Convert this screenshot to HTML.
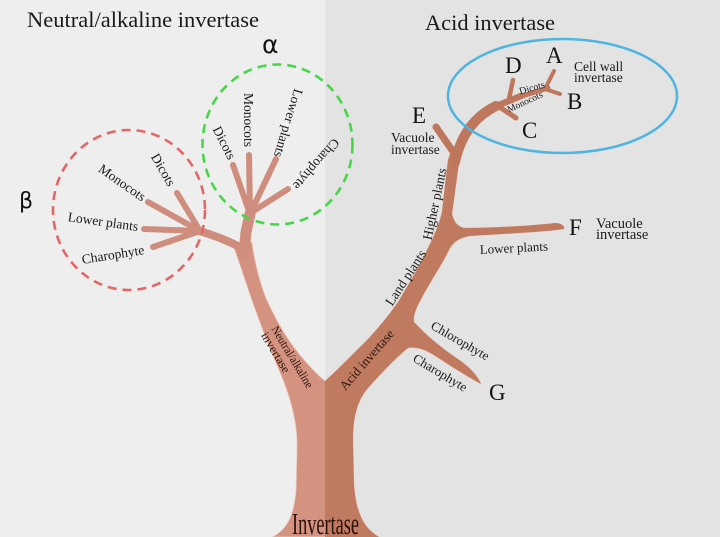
<!DOCTYPE html>
<html>
<head>
<meta charset="utf-8">
<style>
  html,body{margin:0;padding:0;background:#eeeeee;}
  body{width:720px;height:537px;overflow:hidden;}
  svg{display:block;}
  text{font-family:"Liberation Serif","Times New Roman",serif;}
</style>
</head>
<body>
<svg width="720" height="537" viewBox="0 0 720 537" xmlns="http://www.w3.org/2000/svg">
  <defs>
    <clipPath id="rc"><rect x="325" y="0" width="400" height="537"/></clipPath>
    <path id="tree" d="M 272,537
      C 287,530 294,515 296,490
      L 297,445
      C 297,420 290,395 278,368
      C 268,345 258,318 250,295
      C 245,280 239,262 234,248
      L 252,242
      C 254,258 259,280 266,298
      C 275,318 286,338 300,355
      C 310,367 318,375 325,381
      C 334,373 346,361 357,350
      C 372,336 387,318 398,302
      C 410,282 420,265 427,250
      C 433,238 439,225 442,212
      L 445,185
      L 448,160
      L 452,148
      L 461,152
      L 458,170
      L 455,192
      L 452,214
      C 454,222 457,226 464,228
      C 490,228 530,226 555,223
      C 561,223 565,226 564,229
      C 545,232 500,234 470,236
      C 458,238 452,243 448,252
      C 440,268 428,285 419,303
      C 415,311 413,317 414,322
      C 425,334 440,347 458,359
      C 468,366 477,374 481,384
      C 470,378 455,369 440,359
      C 428,351 418,346 408,348
      C 398,356 384,370 368,388
      C 358,400 353,415 353,440
      L 354,485
      C 356,510 362,527 379,537
      Z"/>
  </defs>

  <!-- backgrounds -->
  <rect x="0" y="0" width="720" height="537" fill="#e3e3e3"/>
  <rect x="0" y="0" width="325" height="537" fill="#eeeeee"/>

  <!-- tree trunk -->
  <use href="#tree" fill="#d49280" stroke="#efcfc2" stroke-width="0.8"/>
  <use href="#tree" fill="#c07a60" clip-path="url(#rc)"/>

  <!-- upper right acid branches -->
  <g stroke="#be775d" stroke-linecap="round" fill="none">
    <path d="M 454,153 L 436,127" stroke-width="7"/>
    <path d="M 455,162 C 461,135 474,117 496,106" stroke-width="10"/>
    <path d="M 494,107 L 521,96" stroke-width="6.5"/>
    <path d="M 519,97 L 548,88" stroke-width="5"/>
    <path d="M 498,106 L 516,118" stroke-width="5"/>
    <path d="M 509,99 L 513,80" stroke-width="4.5"/>
    <path d="M 545,89 L 554,71" stroke-width="4"/>
    <path d="M 545,89 L 560,94" stroke-width="4"/>
  </g>

  <!-- left alpha/beta branches -->
  <g stroke="#cf8d7d" stroke-linecap="round" fill="none">
    <path d="M 244,254 L 246,232 L 250,214" stroke-width="11"/>
    <path d="M 240,247 C 228,241 214,235 199,231" stroke-width="8"/>
    <path d="M 200,231 L 177,193" stroke-width="6"/>
    <path d="M 200,231 L 148,202" stroke-width="6"/>
    <path d="M 200,231 L 144,229" stroke-width="6"/>
    <path d="M 200,231 L 153,247" stroke-width="6"/>
    <path d="M 250,214 L 233,165" stroke-width="6"/>
    <path d="M 250,214 L 249,155" stroke-width="6"/>
    <path d="M 250,214 L 276,159" stroke-width="6"/>
    <path d="M 252,212 L 288,189" stroke-width="6"/>
  </g>

  <!-- circles -->
  <ellipse cx="277.5" cy="144.5" rx="75" ry="80" fill="none" stroke="#48d648" stroke-width="2.6" stroke-dasharray="9 6"/>
  <ellipse cx="129" cy="210" rx="76" ry="80" fill="none" stroke="#e26868" stroke-width="2.6" stroke-dasharray="9 6"/>
  <ellipse cx="562.5" cy="96" rx="114.5" ry="57" fill="none" stroke="#4db5e0" stroke-width="2.5"/>

  <!-- titles -->
  <text x="27" y="27" font-size="22" fill="#1a1a1a" textLength="232" lengthAdjust="spacingAndGlyphs">Neutral/alkaline invertase</text>
  <text x="425" y="30" font-size="22" fill="#1a1a1a" textLength="130" lengthAdjust="spacingAndGlyphs">Acid invertase</text>

  <!-- greek -->
  <text x="262" y="53" font-size="25" fill="#111" style="font-family:'DejaVu Sans',sans-serif;">α</text>
  <text x="19" y="208" font-size="22" fill="#111" style="font-family:'DejaVu Sans',sans-serif;">β</text>

  <g fill="#1a1a1a" font-size="13.5" text-anchor="middle">
    <!-- beta labels -->
    <text transform="translate(163,170) rotate(60)" dy="0.3em">Dicots</text>
    <text transform="translate(122,183) rotate(35)" dy="0.3em">Monocots</text>
    <text transform="translate(103,222) rotate(8)" dy="0.3em">Lower plants</text>
    <text transform="translate(113,255) rotate(-9)" dy="0.3em">Charophyte</text>
    <!-- alpha labels -->
    <text transform="translate(224,143) rotate(63)" dy="0.3em">Dicots</text>
    <text transform="translate(248,120) rotate(90)" dy="0.3em">Monocots</text>
    <text transform="translate(288,123) rotate(107)" dy="0.3em">Lower plants</text>
    <text transform="translate(316,164) rotate(131)" dy="0.3em">Charophyte</text>
    <!-- right stem labels -->
    <text transform="translate(435,204) rotate(-78)" dy="0.3em">Higher plants</text>
    <text transform="translate(406,278) rotate(-57)" dy="0.3em">Land plants</text>
    <text transform="translate(460,341) rotate(30)" dy="0.3em" font-size="13">Chlorophyte</text>
    <text transform="translate(440,373) rotate(31)" dy="0.3em" font-size="13">Charophyte</text>
    <!-- in ellipse -->
    <text transform="translate(532,88) rotate(-16)" dy="0.3em" font-size="10">Dicots</text>
    <text transform="translate(525,102) rotate(-25)" dy="0.3em" font-size="9.5">Monocots</text>
    <!-- inside trunk -->
    <text transform="translate(367,360) rotate(-49)" dy="0.3em" font-size="13" fill="#2a140c">Acid invertase</text>
  </g>

  <g transform="translate(271,329) rotate(59)" fill="#2a140c" font-size="12">
    <text x="0" y="0" textLength="70" lengthAdjust="spacingAndGlyphs">Neutral/alkaline</text>
    <text x="0" y="12" textLength="45" lengthAdjust="spacingAndGlyphs">invertase</text>
  </g>

  <!-- lower plants under F -->
  <text transform="translate(480,254) rotate(-3)" font-size="13" fill="#1a1a1a">Lower plants</text>

  <!-- vacuole / cell wall labels -->
  <g fill="#1a1a1a" font-size="13.5">
    <text x="391" y="142">Vacuole</text>
    <text x="391" y="154">invertase</text>
    <text x="574" y="71">Cell wall</text>
    <text x="574" y="82">invertase</text>
  </g>
  <g fill="#1a1a1a" font-size="14.5">
    <text x="596" y="228">Vacuole</text>
    <text x="596" y="239">invertase</text>
  </g>

  <!-- letters -->
  <g fill="#141414" font-size="23">
    <text x="546" y="63">A</text>
    <text x="505" y="73">D</text>
    <text x="567" y="109">B</text>
    <text x="522" y="138">C</text>
    <text x="412" y="123">E</text>
    <text x="569" y="235">F</text>
    <text x="489" y="400">G</text>
  </g>

  <!-- bottom -->
  <text x="292" y="534" font-size="31" fill="#2a120a" textLength="67" lengthAdjust="spacingAndGlyphs">Invertase</text>
</svg>
</body>
</html>
